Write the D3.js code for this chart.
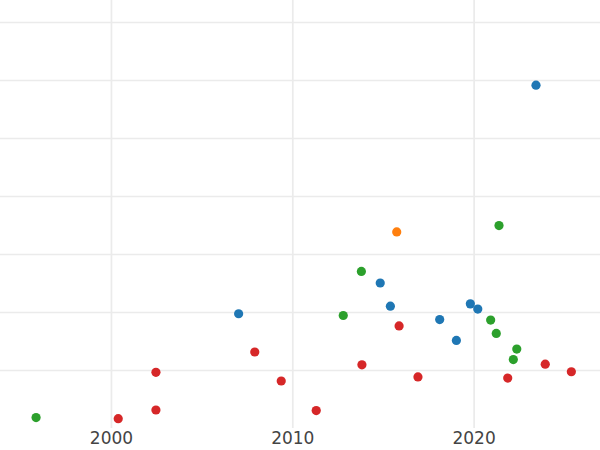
<!DOCTYPE html>
<html>
<head>
<meta charset="utf-8">
<script src="https://cdn.jsdelivr.net/npm/d3@7"></script>
<style>
  html, body { margin: 0; padding: 0; background: #fff; }
  svg { display: block; }
</style>
</head>
<body>
<svg id="chart" width="600" height="450"></svg>
<script>
// ---- data ----
const xTicks = [2000, 2010, 2020];
const yTicks = [1, 2, 3, 4, 5, 6, 7];

const seriesNames = ["blue", "orange", "green", "red"];
const seriesColors = ["#1f77b4", "#ff7f0e", "#2ca02c", "#d62728"];

const blueYears  = [2023.44, 2014.85, 2015.41, 2007.04, 2018.13, 2019.05, 2019.82, 2020.23];
const blueValues = [5.91, 2.50, 2.10, 1.97, 1.87, 1.51, 2.14, 2.05];

const orangeYears  = [2015.76];
const orangeValues = [3.38];

const greenYears  = [1995.87, 2013.81, 2012.81, 2021.40, 2020.94, 2021.25, 2022.38, 2022.19];
const greenValues = [0.18, 2.70, 1.94, 3.49, 1.86, 1.63, 1.36, 1.18];

const redYears  = [2000.40, 2002.48, 2002.48, 2007.93, 2009.39, 2011.32, 2013.84, 2015.89, 2016.93, 2021.88, 2023.95, 2025.39];
const redValues = [0.16, 0.96, 0.31, 1.31, 0.81, 0.30, 1.09, 1.76, 0.88, 0.86, 1.10, 0.97];

// ---- build points ----
const groups = [
  [blueYears, blueValues],
  [orangeYears, orangeValues],
  [greenYears, greenValues],
  [redYears, redValues]
];
const points = [];
groups.forEach((g, i) => {
  g[0].forEach((yr, j) => points.push({ s: i, x: yr, y: g[1][j] }));
});

// ---- layout ----
const W = 600, H = 450;
const plot = { left: 0, right: 600, top: 0, bottom: 428 };

const x = d3.scaleLinear().domain([1993.88, 2026.97]).range([plot.left, plot.right]);
const y = d3.scaleLinear().domain([0, 7.379]).range([plot.bottom, plot.top]);

const svg = d3.select("#chart");
svg.append("rect").attr("width", W).attr("height", H).attr("fill", "#fff");

// horizontal gridlines
svg.append("g")
  .attr("transform", `translate(${plot.left},0)`)
  .call(d3.axisLeft(y).tickValues(yTicks).tickSize(-(plot.right - plot.left)).tickFormat(""))
  .call(g => g.select(".domain").remove())
  .call(g => g.selectAll(".tick line").attr("stroke", "#ebebeb").attr("stroke-width", 1.7));

// vertical gridlines + labels
const xAxis = svg.append("g")
  .attr("transform", `translate(0,${plot.bottom})`)
  .call(d3.axisBottom(x).tickValues(xTicks).tickSize(-(plot.bottom - plot.top)).tickFormat(d3.format("d")));
xAxis.select(".domain").remove();
xAxis.selectAll(".tick line").attr("stroke", "#ebebeb").attr("stroke-width", 1.7);
xAxis.selectAll(".tick text")
  .attr("fill", "#444")
  .attr("font-family", "DejaVu Sans, sans-serif")
  .attr("font-size", 17)
  .attr("dy", "0.71em")
  .attr("y", 4);

// points
svg.append("g")
  .selectAll("circle")
  .data(points)
  .join("circle")
  .attr("cx", d => x(d.x))
  .attr("cy", d => y(d.y))
  .attr("r", 4.6)
  .attr("fill", d => seriesColors[d.s]);
</script>
</body>
</html>
